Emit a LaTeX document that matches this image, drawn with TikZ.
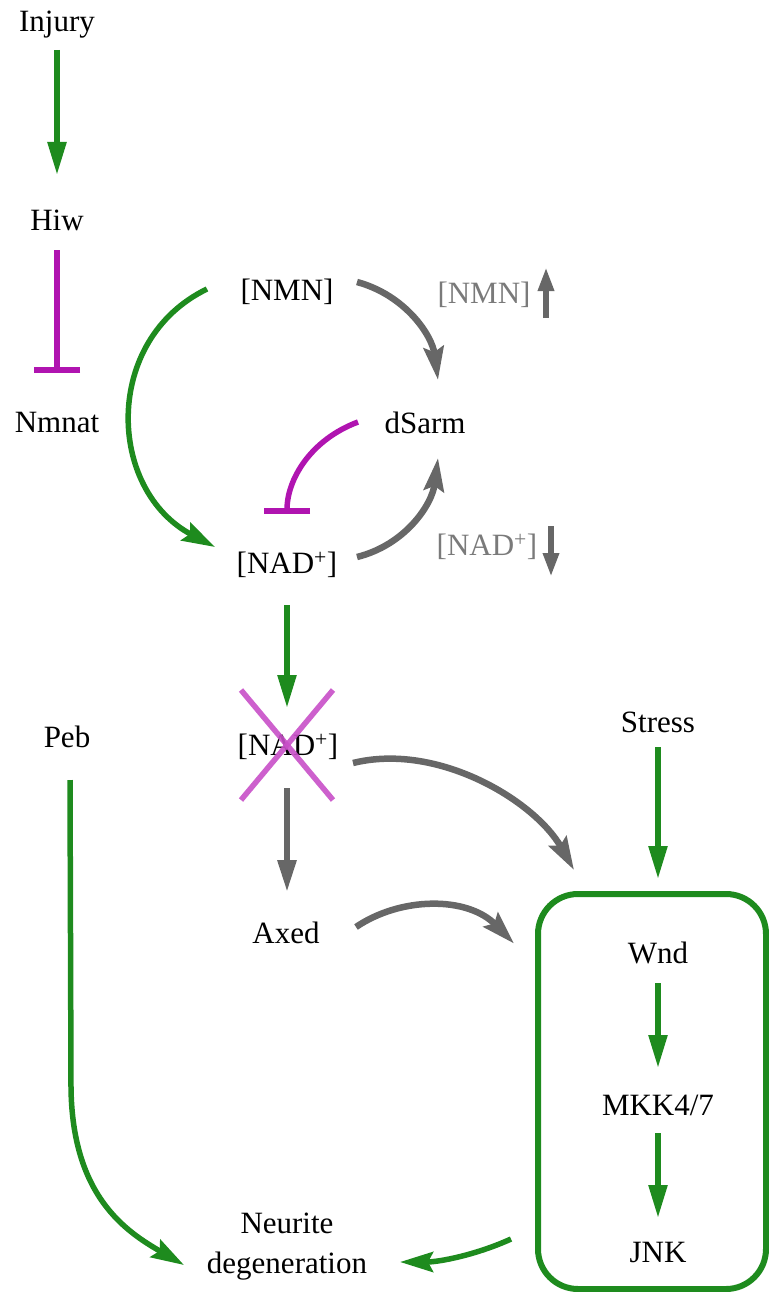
\documentclass[tikz,border=0pt]{standalone}
\usepackage{fontspec}
\setmainfont{Liberation Serif}
\newfontfamily\tnrfont{Liberation Serif}
\usetikzlibrary{arrows.meta,calc}
\definecolor{pgreen}{HTML}{1E8B1E}
\definecolor{pgray}{HTML}{676767}
\definecolor{pmag}{HTML}{B014B0}
\definecolor{pcross}{HTML}{C84FC8}
\definecolor{plabel}{HTML}{7A7A7A}
\begin{document}
\begin{tikzpicture}[x=1pt,y=-1pt,
  lbl/.style={inner sep=0pt,font=\tnrfont\fontsize{31}{40}\selectfont},
  glbl/.style={lbl,text=plabel},
  garr/.style={draw=pgreen,line width=5.5pt,-{Triangle[length=33pt,width=18pt]}},
  garc/.style={draw=pgreen,line width=5.5pt,-{Stealth[length=33pt,width=20pt,inset=5pt]}},
  yarr/.style={draw=pgray,line width=6pt,-{Triangle[length=32pt,width=18pt]}},
  yarc/.style={draw=pgray,line width=6.5pt,-{Stealth[length=33pt,width=20pt,inset=5pt]}},
  inh/.style={draw=pmag,line width=5.5pt,-{Bar[width=46pt,line width=6pt]}},
  tiny/.style={draw=pgray,line width=6.5pt,-{Triangle[length=24pt,width=15pt]}},
  crossln/.style={draw=pcross,line width=5.5pt,opacity=0.9},
  boxst/.style={draw=pgreen,line width=6pt,rounded corners=40pt,minimum width=228pt,minimum height=395pt,inner sep=0pt}
]
\useasboundingbox (0,0) rectangle (768,1292);

% nodes
\node[lbl] (injury) at (57,25) {Injury};
\node[lbl] (hiw) at (57,220) {Hiw};
\node[lbl] (nmnat) at (57,422) {Nmnat};
\node[lbl] (nmn) at (287,292) {[NMN]};
\node[lbl] (dsarm) at (425,423) {dSarm};
\node[lbl] (nad) at (287,565) {[NAD\textsuperscript{+}]};
\node[glbl] (nmnup) at (484,295) {[NMN]};
\node[glbl] (naddown) at (487,547) {[NAD\textsuperscript{+}]};
\node[lbl] (nadx) at (288,747) {[NAD\textsuperscript{+}]};
\node[lbl] (peb) at (67,737) {Peb};
\node[lbl] (stress) at (658,722) {Stress};
\node[lbl] (axed) at (286,933) {Axed};
\node[boxst] (box) at (652,1091.5) {};
\node[lbl] (wnd) at (658,953) {Wnd};
\node[lbl] (mkk) at (658,1105) {MKK4/7};
\node[lbl] (jnk) at (658,1252) {JNK};
\node[lbl,align=center] (neur) at (287,1247) {Neurite\\degeneration};

% left column
\draw[garr] ($(injury)+(0,25)$) -- ($(hiw)+(0,-45)$);
\draw[inh] ($(hiw)+(0,30)$) -- ($(nmnat)+(0,-49)$);

% NMN / NAD cycle
\draw[garc] ($(nmn)+(-80,-3)$) .. controls ($(nmn)+(-185,48)$) and ($(nad)+(-180,-75)$) .. ($(nad)+(-72,-18)$);
\draw[yarc] ($(nmn)+(70,-10)$) .. controls ($(nmn)+(118,3)$) and ($(dsarm)+(7,-88)$) .. ($(dsarm)+(13,-43)$);
\draw[yarc] ($(nad)+(70,-8)$) .. controls ($(nad)+(118,-20)$) and ($(dsarm)+(7,82)$) .. ($(dsarm)+(13,35)$);
\draw[inh] ($(dsarm)+(-67,-1)$) .. controls ($(dsarm)+(-115,17)$) and ($(nad)+(0,-85)$) .. ($(nad)+(0,-51)$);

% gray labels with small arrows
\draw[tiny] ($(nmnup)+(62,23)$) -- ($(nmnup)+(62,-28)$);
\draw[tiny] ($(naddown)+(64,-21)$) -- ($(naddown)+(64,30)$);

% NAD -> crossed NAD
\draw[garr] ($(nad)+(0,40)$) -- ($(nadx)+(-1,-39)$);
\draw[crossln] ($(nadx)+(-47,-57)$) -- ($(nadx)+(45,53)$);
\draw[crossln] ($(nadx)+(45,-57)$) -- ($(nadx)+(-47,53)$);

% gray to box and Axed
\draw[yarc] ($(nadx)+(65,16)$) .. controls ($(nadx)+(150,-5)$) and ($(box.north west)+(0,-90)$) .. ($(box.north west)+(39,-21)$);
\draw[yarr] ($(nadx)+(-1,41)$) -- ($(axed)+(1,-41)$);
\draw[yarc] ($(axed)+(70,-6)$) .. controls ($(axed)+(114,-36)$) and ($(box.west)+(-68,-196)$) .. ($(box.west)+(-21,-148)$);

% to neurite degeneration
\draw[garc] ($(peb)+(3,43)$) -- ($(peb)+(4,350)$) .. controls ($(peb)+(5,460)$) and ($(neur)+(-160,-15)$) .. ($(neur)+(-103,18)$);
\draw[garc] ($(box.west)+(-24,147.5)$) .. controls ($(box.west)+(-58,163)$) and ($(neur)+(153,15)$) .. ($(neur)+(113,15)$);

% JNK module
\draw[garr] ($(stress)+(0,25)$) -- ($(box.north)+(6,-12)$);
\draw[garr] ($(wnd)+(0,30)$) -- ($(mkk)+(0,-37)$);
\draw[garr] ($(mkk)+(0,28)$) -- ($(jnk)+(0,-34)$);
\end{tikzpicture}
\end{document}
